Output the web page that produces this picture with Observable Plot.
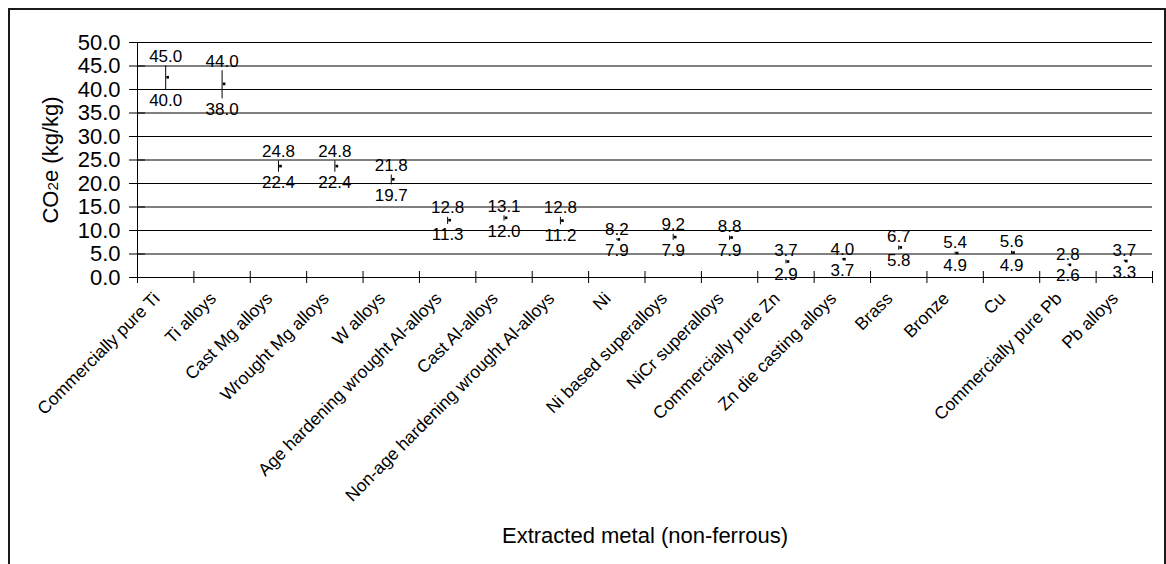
<!DOCTYPE html>
<html><head><meta charset="utf-8">
<script src="https://cdn.jsdelivr.net/npm/d3@7"></script>
<script src="https://cdn.jsdelivr.net/npm/@observablehq/plot@0.6"></script>
<style>
html,body{margin:0;padding:0;background:#fff;overflow:hidden;}
#wrap{position:relative;width:1166px;height:564px;overflow:hidden;}
#border{position:absolute;left:8px;top:8px;width:1158px;height:600px;border:2px solid #1a1a1a;box-sizing:border-box;pointer-events:none;}
#chart{position:absolute;left:0;top:0;}
</style></head><body><div id="wrap"><div id="chart"></div><div id="border"></div></div>
<script>
const categories = ["Commercially pure Ti","Ti alloys","Cast Mg alloys","Wrought Mg alloys","W alloys","Age hardening wrought Al-alloys","Cast Al-alloys","Non-age hardening wrought Al-alloys","Ni","Ni based superalloys","NiCr superalloys","Commercially pure Zn","Zn die casting alloys","Brass","Bronze","Cu","Commercially pure Pb","Pb alloys"];
const high = [45.0,44.0,24.8,24.8,21.8,12.8,13.1,12.8,8.2,9.2,8.8,3.7,4.0,6.7,5.4,5.6,2.8,3.7];
const low  = [40.0,38.0,22.4,22.4,19.7,11.3,12.0,11.2,7.9,7.9,7.9,2.9,3.7,5.8,4.9,4.9,2.6,3.3];
const mid  = [42.6,41.2,23.7,23.7,20.9,12.2,12.7,12.1,8.1,8.6,8.5,3.4,3.9,6.4,5.2,5.3,2.7,3.5];
const yTicks = [0,5,10,15,20,25,30,35,40,45,50];
const xTitle = "Extracted metal (non-ferrous)";
const yTitle = "CO2e (kg/kg)";

const data = categories.map((c,i)=>({i, c, high: high[i], low: low[i], mid: mid[i]}));
const font = "'Liberation Sans', Arial, sans-serif";
const bounds = d3.range(-0.5, categories.length, 1);

const plot = Plot.plot({
  width:1166, height:564, marginLeft:137, marginRight:14, marginTop:42, marginBottom:287,
  style:{fontFamily: font, background:"transparent", color:"#000"},
  x:{type:"linear", domain:[-0.5, categories.length-0.5], axis:null},
  y:{domain:[0,50], axis:null},
  marks:[
    Plot.gridY(yTicks.filter(d=>d>0), {stroke:"#000", strokeOpacity:1, strokeWidth:1}),
    Plot.axisY(yTicks, {tickSize:0, tickPadding:17, tickFormat:d3.format(".1f"), fontSize:22, label:null}),
    Plot.axisY(yTicks, {tickSize:16, dx:8, tickFormat:()=>"", label:null}),
    Plot.axisX(bounds, {tickSize:12, dy:-6, tickFormat:()=>"", label:null}),
    Plot.ruleY([0], {stroke:"#000"}),
    Plot.ruleX([-0.5], {y1:0, y2:50, stroke:"#000"}),
    Plot.ruleX(data, {x:"i", y1:"low", y2:"high", stroke:"#000"}),
    Plot.dot(data, {x:"i", y:"mid", symbol:"square", r:1.5, dx:2, fill:"#000", stroke:null}),
    Plot.text(data, {x:"i", y:"high", text: d=>d.high.toFixed(1), lineAnchor:"bottom", dy:-4, fontSize:17, fill:"#000"}),
    Plot.text(data, {x:"i", y:"low", text: d=>d.low.toFixed(1), lineAnchor:"top", dy:4, fontSize:17, fill:"#000"}),
    Plot.text(categories, {x:(d,i)=>i, frameAnchor:"bottom", text:d=>d, rotate:-45, textAnchor:"end", dx:-5, dy:22, fontSize:17.5, fill:"#000"}),
    Plot.text([xTitle], {frameAnchor:"bottom", text:d=>d, lineAnchor:"middle", textAnchor:"middle", dy:258, fontSize:22, fill:"#000"}),
    Plot.text([yTitle], {frameAnchor:"left", text:d=>d, rotate:-90, textAnchor:"middle", lineAnchor:"middle", dx:-87, fontSize:22, fill:"#000"})
  ]
});
document.getElementById("chart").appendChild(plot);
d3.select(plot).selectAll("text").filter(function(){return this.textContent === yTitle;})
  .each(function(){
    const t = d3.select(this);
    t.text(null);
    t.append("tspan").text("CO");
    t.append("tspan").attr("font-size","70%").text("2");
    t.append("tspan").text("e (kg/kg)");
  });
</script>
</body></html>
